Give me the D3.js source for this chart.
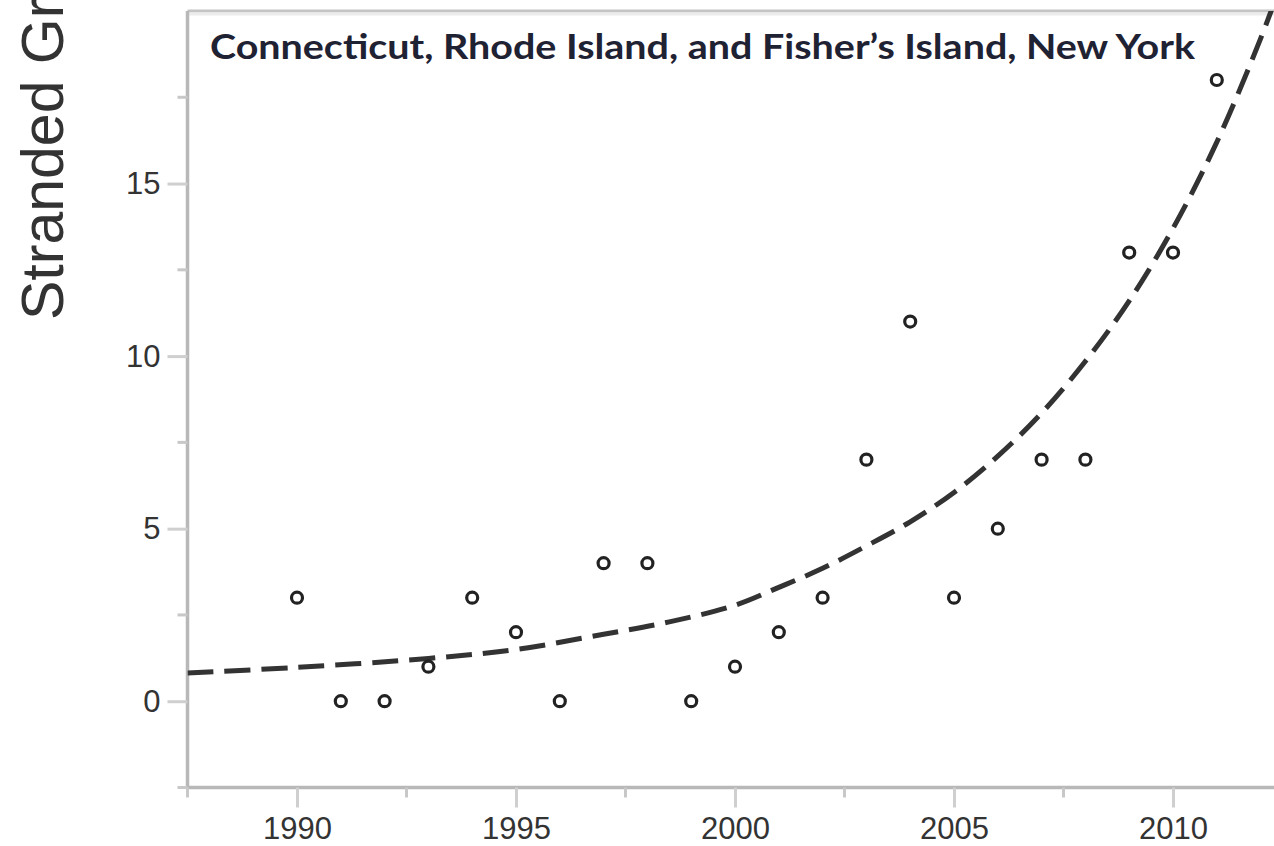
<!DOCTYPE html>
<html>

<head>
  <title>Stranded Green Sea Turtles</title>
  <script src="https://cdn.jsdelivr.net/npm/d3@7"></script>
  <style>
    body {
      margin: 0;
      background-color: #ffffff;
    }

    .tick-label {
      font-family: "Liberation Sans", Arial, sans-serif;
      font-size: 31px;
      fill: #333;
    }
  </style>
</head>

<body>
  <div id="chart"></div>
  <script>
    // yearly counts
    const years = [1990, 1991, 1992, 1993, 1994, 1995, 1996, 1997, 1998, 1999, 2000,
      2001, 2002, 2003, 2004, 2005, 2006, 2007, 2008, 2009, 2010, 2011];
    const counts = [3, 0, 0, 1, 3, 2, 0, 4, 4, 0, 1, 2, 3, 7, 11, 3, 5, 7, 7, 13, 13, 18];

    // dashed trend line
    const trendYears = [1987.5, 1990, 1993, 1995, 1997, 1998.5, 2000, 2001, 2002, 2003, 2004,
      2005, 2006, 2007, 2008, 2009, 2010, 2011, 2012, 2012.5];
    const trendValues = [0.82, 0.98, 1.24, 1.5, 1.94, 2.3, 2.78, 3.3, 3.85, 4.5, 5.2,
      6.05, 7.1, 8.35, 9.85, 11.6, 13.7, 16.2, 19.2, 20.9];

    const xMajorTicks = [1990, 1995, 2000, 2005, 2010];
    const xMinorTicks = [1987.5, 1992.5, 1997.5, 2002.5, 2007.5, 2012.5];
    const yMajorTicks = [0, 5, 10, 15];
    const yMinorTicks = [-2.5, 2.5, 7.5, 12.5, 17.5];

    const title = "Connecticut, Rhode Island, and Fisher\u2019s Island, New York";
    const yLabel = "Stranded Green Sea Turtles";

    const width = 1274;
    const height = 846;
    const m = { left: 187.5, right: 1282.5, top: 11, bottom: 787.5 };

    const svg = d3.select("#chart").append("svg")
      .attr("width", width)
      .attr("height", height);

    const x = d3.scaleLinear().domain([1987.5, 2012.5]).range([m.left, m.right]);
    const y = d3.scaleLinear().domain([-2.5, 20]).range([m.bottom, m.top]);

    svg.append("defs").append("clipPath").attr("id", "plot")
      .append("rect")
      .attr("x", m.left).attr("y", m.top)
      .attr("width", m.right - m.left).attr("height", m.bottom - m.top);

    // frame
    svg.append("line")
      .attr("x1", m.left).attr("x2", m.right).attr("y1", m.top).attr("y2", m.top)
      .attr("stroke", "#c4c4c4").attr("stroke-width", 3);
    svg.append("line")
      .attr("x1", m.left).attr("x2", m.right).attr("y1", m.top + 3).attr("y2", m.top + 3)
      .attr("stroke", "#ececec").attr("stroke-width", 3);

    // axes
    const xAxis = svg.append("g").attr("transform", `translate(0,${m.bottom})`);
    xAxis.call(d3.axisBottom(x).tickValues(xMajorTicks).tickSize(20).tickPadding(9).tickFormat(d3.format("d")));
    xAxis.append("g").selectAll("line")
      .data(xMinorTicks)
      .join("line")
      .attr("x1", d => x(d)).attr("x2", d => x(d))
      .attr("y1", 0).attr("y2", 10)
      .attr("stroke", "#c8c8c8").attr("stroke-width", 3);

    const yAxis = svg.append("g").attr("transform", `translate(${m.left},0)`);
    yAxis.call(d3.axisLeft(y).tickValues(yMajorTicks).tickSize(20).tickPadding(7));
    yAxis.append("g").selectAll("line")
      .data(yMinorTicks)
      .join("line")
      .attr("y1", d => y(d)).attr("y2", d => y(d))
      .attr("x1", 0).attr("x2", -10)
      .attr("stroke", "#c8c8c8").attr("stroke-width", 3);

    svg.selectAll(".domain").attr("stroke", "#b8b8b8").attr("stroke-width", 3.5);
    svg.selectAll(".tick line").attr("stroke", "#cfcfcf").attr("stroke-width", 3);
    svg.selectAll(".tick text").attr("class", "tick-label").attr("fill", "#333");
    xAxis.selectAll(".domain").attr("d", `M${m.left},0H${m.right}`);
    yAxis.selectAll(".domain").attr("d", `M0,${m.bottom}V${m.top}`);

    // trend line
    svg.append("path")
      .datum(trendYears.map((d, i) => [d, trendValues[i]]))
      .attr("clip-path", "url(#plot)")
      .attr("fill", "none")
      .attr("stroke", "#333")
      .attr("stroke-width", 5)
      .attr("stroke-dasharray", "26,11")
      .attr("d", d3.line().x(d => x(d[0])).y(d => y(d[1])).curve(d3.curveCatmullRom.alpha(0.5)));

    // points
    svg.append("g")
      .selectAll("circle")
      .data(years.map((d, i) => [d, counts[i]]))
      .join("circle")
      .attr("cx", d => x(d[0]))
      .attr("cy", d => y(d[1]))
      .attr("r", 5.5)
      .attr("fill", "#fff")
      .attr("stroke", "#222")
      .attr("stroke-width", 3.2);

    // title inside plot
    svg.append("text")
      .attr("x", 210)
      .attr("y", 59)
      .attr("textLength", 985)
      .attr("lengthAdjust", "spacingAndGlyphs")
      .style("font-family", "Lato, 'Open Sans', sans-serif")
      .style("font-weight", "bold")
      .style("font-size", "35px")
      .attr("fill", "#1f2233")
      .text(title);

    // y axis label (runs off the top edge, as in the source picture)
    svg.append("text")
      .attr("transform", "translate(63,320) rotate(-90)")
      .style("font-family", "'Liberation Sans', Arial, sans-serif")
      .style("font-size", "59px")
      .attr("fill", "#333")
      .text(yLabel);
  </script>
</body>

</html>
